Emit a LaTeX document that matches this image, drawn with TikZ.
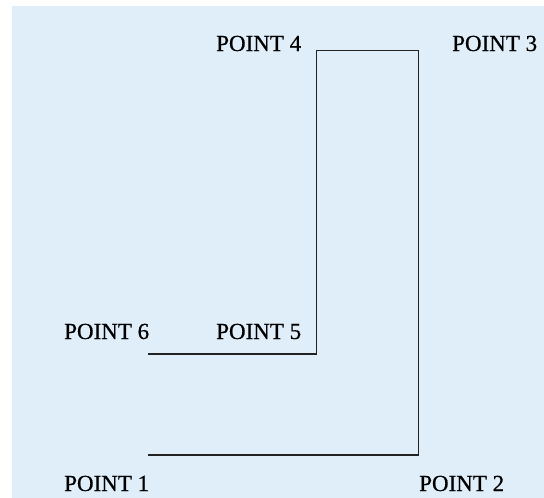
\documentclass[tikz,border=0pt]{standalone}
\usepackage{fontspec}
\setmainfont{Liberation Serif}
\newfontfamily\lblfont[FakeBold=0.6]{Liberation Serif}
\definecolor{bgblue}{HTML}{E0EEF9}
\definecolor{linegray}{HTML}{222222}
\begin{document}
\begin{tikzpicture}[x=1pt,y=-1pt,
  lbl/.style={anchor=base west,inner sep=0pt,font=\lblfont\fontsize{23}{25}\selectfont,text=black},
  wire/.style={draw=linegray,line width=1.8pt}]
\useasboundingbox (0,0) rectangle (544,498);
\fill[bgblue] (12,6) rectangle (544,498);
\coordinate (p1) at (148,455);
\coordinate (p2) at (418.5,455);
\coordinate (p3) at (418.5,50.5);
\coordinate (p4) at (316.5,50.5);
\coordinate (p5) at (316.5,354);
\coordinate (p6) at (148,354);
\draw[wire] (p1) -- (p2) -- (p3) -- (p4) -- (p5) -- (p6);
\node[lbl] (l1) at (64,491) {POINT 1};
\node[lbl] (l2) at (419,491) {POINT 2};
\node[lbl] (l3) at (452,51) {POINT 3};
\node[lbl] (l4) at (216,51) {POINT 4};
\node[lbl] (l5) at (216,339) {POINT 5};
\node[lbl] (l6) at (64,339) {POINT 6};
\end{tikzpicture}
\end{document}
